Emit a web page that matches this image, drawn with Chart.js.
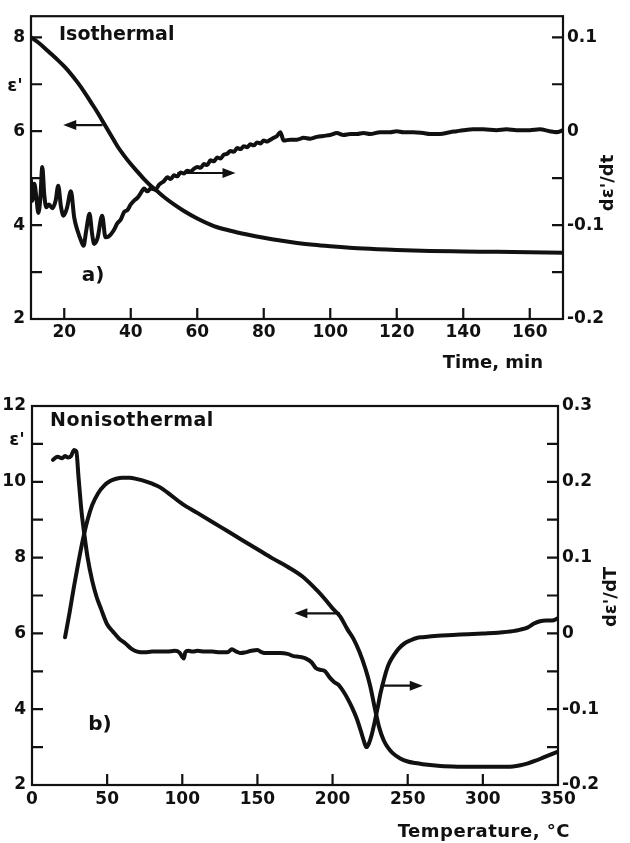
<!DOCTYPE html>
<html><head><meta charset="utf-8">
<script src="https://cdn.jsdelivr.net/npm/chart.js@4.4.0/dist/chart.umd.min.js"></script>
<style>
html,body{margin:0;padding:0;background:#fff;width:630px;height:843px;overflow:hidden}
canvas{position:absolute;left:0}
#c1{top:0}
#c2{top:385px}
</style></head><body>
<canvas id="c1" width="630" height="385"></canvas>
<canvas id="c2" width="630" height="458"></canvas>
<script>
// ---------- a) Isothermal ----------
const isoTime = [10, 12, 14, 16, 18, 20, 22, 24, 26, 28,
  30, 32, 34, 36, 38, 40, 42, 44, 46, 48,
  50, 53, 56, 60, 65, 70, 75, 80, 85, 90,
  95, 100, 110, 120, 130, 140, 150, 160, 170];
const isoEps = [8.00, 7.90, 7.78, 7.65, 7.52, 7.38, 7.22, 7.04, 6.84, 6.62,
  6.40, 6.16, 5.92, 5.68, 5.48, 5.30, 5.14, 4.98, 4.84, 4.72,
  4.60, 4.44, 4.30, 4.14, 3.98, 3.88, 3.80, 3.73, 3.67, 3.62,
  3.58, 3.55, 3.50, 3.47, 3.45, 3.44, 3.43, 3.42, 3.41];

const isoDerTime = [10, 10.4, 11, 11.6, 12.2, 12.8, 13.4, 14.0, 14.6, 15.4,
  16.4, 17.4, 18.2, 19.0, 19.8, 20.8, 22.0, 23.0, 24.0, 25.0,
  25.8, 26.6, 27.6, 28.4, 29.0, 30.0, 31.4, 32.4, 33.4, 34.8,
  36, 37, 38, 39, 40, 41, 42, 43, 44, 45,
  46, 47.5, 48.5, 50, 51, 52, 53, 54, 55, 56,
  57, 58, 59, 60, 61, 62, 63, 64, 65, 66,
  67, 68, 69, 70, 71, 72, 73, 74, 75, 76,
  77, 78, 79, 80, 81, 82, 83, 84, 85, 86,
  88, 90, 92, 94, 96, 98, 100, 102, 104, 106,
  108, 110, 112, 115, 118, 120, 122, 125, 128, 130,
  133, 136, 138, 140, 143, 146, 150, 153, 156, 160,
  163, 166, 168, 170];
const isoDer = [-0.052, -0.074, -0.056, -0.070, -0.087, -0.072, -0.038, -0.068, -0.081, -0.078,
  -0.082, -0.074, -0.058, -0.080, -0.090, -0.082, -0.064, -0.092, -0.106, -0.116,
  -0.122, -0.106, -0.088, -0.110, -0.120, -0.114, -0.090, -0.113, -0.112, -0.106,
  -0.098, -0.094, -0.086, -0.084, -0.078, -0.074, -0.071, -0.066, -0.061, -0.064,
  -0.061, -0.062, -0.057, -0.053, -0.049, -0.051, -0.047, -0.048, -0.044, -0.045,
  -0.042, -0.043, -0.040, -0.038, -0.039, -0.035, -0.036, -0.031, -0.032, -0.028,
  -0.029, -0.025, -0.024, -0.021, -0.022, -0.018, -0.019, -0.016, -0.017, -0.014,
  -0.015, -0.012, -0.013, -0.010, -0.011, -0.009, -0.007, -0.005, -0.001, -0.010,
  -0.009, -0.009, -0.007, -0.008, -0.006, -0.005, -0.004, -0.002, -0.004, -0.003,
  -0.003, -0.002, -0.003, -0.001, -0.001, 0.000, -0.001, -0.001, -0.002, -0.003,
  -0.003, -0.001, 0.000, 0.001, 0.002, 0.002, 0.001, 0.002, 0.001, 0.001,
  0.002, 0.000, -0.001, 0.001];

const isoXTicks = [20, 40, 60, 80, 100, 120, 140, 160];
const isoLeftTicks = [2, 3, 4, 5, 6, 7, 8];
const isoLeftLabels = ['2', '', '4', '', '6', '', '8'];
const isoRightTicks = [-0.2, -0.15, -0.1, -0.05, 0, 0.05, 0.1];
const isoRightLabels = ['-0.2', '', '-0.1', '', '0', '', '0.1'];

// ---------- b) Nonisothermal ----------
const nonTemp = [22, 25, 28, 31, 34, 37, 40, 44, 48, 52,
  56, 60, 65, 70, 75, 80, 85, 90, 100, 110,
  120, 130, 140, 150, 160, 170, 180, 190, 195, 200,
  205, 210, 214, 218, 222, 225, 228, 231, 234, 237,
  240, 245, 250, 255, 260, 270, 280, 290, 300, 310,
  320, 325, 330, 335, 340, 345, 350];
const nonEps = [5.90, 6.55, 7.25, 7.90, 8.50, 9.00, 9.38, 9.70, 9.90, 10.02,
  10.08, 10.11, 10.11, 10.07, 10.02, 9.95, 9.86, 9.72, 9.42, 9.18,
  8.94, 8.70, 8.46, 8.22, 7.98, 7.76, 7.50, 7.12, 6.90, 6.66,
  6.45, 6.10, 5.85, 5.50, 5.05, 4.62, 4.05, 3.52, 3.18, 2.98,
  2.84, 2.70, 2.62, 2.58, 2.55, 2.51, 2.49, 2.48, 2.48, 2.48,
  2.49, 2.52, 2.57, 2.64, 2.72, 2.80, 2.88];

const nonDerTemp = [14, 17, 20, 22, 24, 26, 28, 29.5, 31, 33,
  35, 37, 40, 43, 46, 50, 54, 58, 62, 66,
  70, 75, 80, 85, 90, 95, 98, 100, 101, 102,
  104, 107, 110, 115, 120, 125, 130, 133, 136, 139,
  142, 146, 150, 153, 156, 160, 165, 170, 174, 178,
  182, 186, 189, 192, 195, 198, 201, 204, 207, 210,
  213, 216, 219, 221, 222.5, 224, 226, 228, 230, 232,
  234, 236, 238, 241, 244, 248, 252, 256, 260, 270,
  280, 290, 300, 310, 320, 325, 330, 334, 338, 342,
  346, 350];
const nonDer = [0.229, 0.233, 0.231, 0.234, 0.232, 0.234, 0.242, 0.240, 0.205, 0.160,
  0.128, 0.100, 0.070, 0.048, 0.032, 0.012, 0.002, -0.007, -0.013, -0.020,
  -0.024, -0.025, -0.024, -0.024, -0.024, -0.023, -0.025, -0.031, -0.033, -0.025,
  -0.023, -0.024, -0.023, -0.024, -0.024, -0.025, -0.025, -0.021, -0.024, -0.026,
  -0.025, -0.023, -0.022, -0.025, -0.026, -0.026, -0.026, -0.027, -0.030, -0.031,
  -0.033, -0.038, -0.046, -0.048, -0.050, -0.058, -0.064, -0.068, -0.076, -0.086,
  -0.098, -0.112, -0.130, -0.143, -0.150, -0.146, -0.134, -0.117, -0.098, -0.078,
  -0.062, -0.048, -0.038, -0.028, -0.020, -0.013, -0.009, -0.006, -0.005, -0.003,
  -0.002, -0.001, 0.000, 0.001, 0.003, 0.005, 0.008, 0.013, 0.016, 0.017,
  0.017, 0.020];

const nonXTicks = [0, 50, 100, 150, 200, 250, 300, 350];
const nonLeftTicks = [2, 3, 4, 5, 6, 7, 8, 9, 10, 11, 12];
const nonLeftLabels = ['2', '', '4', '', '6', '', '8', '', '10', '', '12'];
const nonRightTicks = [-0.2, -0.15, -0.1, -0.05, 0, 0.05, 0.1, 0.15, 0.2, 0.25, 0.3];
const nonRightLabels = ['-0.2', '', '-0.1', '', '0', '', '0.1', '', '0.2', '', '0.3'];

// ---------- drawing ----------
const FONT = 'DejaVu Sans';
const INK = '#111';
Chart.defaults.font.family = FONT;
Chart.defaults.color = INK;
const TICKFONT = { size: 17, weight: 'bold' };

const zip = (xs, ys) => xs.map((x, i) => ({ x, y: ys[i] }));
const setTicks = vals => s => { s.ticks = vals.map(v => ({ value: v })); };

const decor = {
  id: 'decor',
  afterDraw(chart, args, o) {
    const ctx = chart.ctx, a = chart.chartArea;
    const xs = chart.scales.x, yl = chart.scales.y, yr = chart.scales.y1;
    ctx.save();
    ctx.strokeStyle = INK; ctx.fillStyle = INK; ctx.lineWidth = 2.2;
    ctx.strokeRect(a.left, a.top, a.right - a.left, a.bottom - a.top);
    const L = o.tickLen;
    ctx.beginPath();
    xs.ticks.forEach(t => { const p = xs.getPixelForValue(t.value);
      if (p > a.left + 2 && p < a.right - 2) { ctx.moveTo(p, a.bottom); ctx.lineTo(p, a.bottom - L); } });
    yl.ticks.forEach(t => { const p = yl.getPixelForValue(t.value);
      if (p > a.top + 2 && p < a.bottom - 2) { ctx.moveTo(a.left, p); ctx.lineTo(a.left + L, p); } });
    yr.ticks.forEach(t => { const p = yr.getPixelForValue(t.value);
      if (p > a.top + 2 && p < a.bottom - 2) { ctx.moveTo(a.right, p); ctx.lineTo(a.right - L, p); } });
    ctx.stroke();
    // arrows (positions in data units of x and left y)
    o.arrows.forEach(ar => {
      const x1 = xs.getPixelForValue(ar.from), x2 = xs.getPixelForValue(ar.to);
      const y = yl.getPixelForValue(ar.level);
      const dir = Math.sign(x2 - x1);
      ctx.beginPath(); ctx.moveTo(x1, y); ctx.lineTo(x2 - dir * 8, y); ctx.stroke();
      ctx.beginPath(); ctx.moveTo(x2, y); ctx.lineTo(x2 - dir * 13, y - 5); ctx.lineTo(x2 - dir * 13, y + 5);
      ctx.closePath(); ctx.fill();
    });
    // texts
    o.texts.forEach(t => {
      ctx.save();
      ctx.font = 'bold ' + (t.size || 19) + 'px "' + FONT + '"';
      if ('letterSpacing' in ctx) ctx.letterSpacing = (t.ls || 0) + 'px';
      ctx.textAlign = t.align || 'left';
      ctx.textBaseline = 'middle';
      ctx.translate(t.x, t.y);
      if (t.rot) ctx.rotate(t.rot);
      ctx.fillText(t.text, 0, 0);
      ctx.restore();
    });
    ctx.restore();
  }
};

function lineDs(data, axis, bw) {
  return { data, yAxisID: axis, showLine: true, borderColor: INK, backgroundColor: INK,
    borderWidth: bw, pointRadius: 0, cubicInterpolationMode: 'monotone', fill: false,
    borderJoinStyle: 'round', borderCapStyle: 'round' };
}

function makeChart(id, cfg) {
  return new Chart(document.getElementById(id), {
    type: 'scatter',
    data: { datasets: [
      lineDs(zip(cfg.epsX, cfg.epsY), 'y', 4),
      lineDs(zip(cfg.derX, cfg.derY), 'y1', 4)
    ] },
    options: {
      responsive: false, animation: false, devicePixelRatio: 1,
      layout: { padding: { top: cfg.padTop, left: 0, right: 0, bottom: 0 } },
      plugins: { legend: { display: false }, tooltip: { enabled: false }, decor: cfg.decor },
      scales: {
        x: { type: 'linear', min: cfg.xMin, max: cfg.xMax, afterBuildTicks: setTicks(cfg.xTicks),
          afterFit: s => { s.height = cfg.xH; },
          grid: { display: false, drawTicks: false }, border: { display: false },
          ticks: { autoSkip: false, maxRotation: 0, padding: cfg.xPad, font: TICKFONT, color: INK,
            callback: v => String(v) } },
        y: { position: 'left', min: cfg.lMin, max: cfg.lMax, afterBuildTicks: setTicks(cfg.lTicks),
          afterFit: s => { s.width = cfg.lW; },
          grid: { display: false, drawTicks: false }, border: { display: false },
          ticks: { autoSkip: false, padding: 6, font: TICKFONT, color: INK,
            callback: (v, i) => cfg.lLabels[i] } },
        y1: { position: 'right', min: cfg.rMin, max: cfg.rMax, afterBuildTicks: setTicks(cfg.rTicks),
          afterFit: s => { s.width = cfg.rW; },
          grid: { display: false, drawTicks: false }, border: { display: false },
          ticks: { autoSkip: false, padding: 4, font: TICKFONT, color: INK,
            callback: (v, i) => cfg.rLabels[i] } }
      }
    },
    plugins: [decor]
  });
}

makeChart('c1', {
  epsX: isoTime, epsY: isoEps, derX: isoDerTime, derY: isoDer,
  xMin: 10, xMax: 170, xTicks: isoXTicks, xH: 66, xPad: 3,
  lMin: 2, lMax: 8.45, lTicks: isoLeftTicks, lLabels: isoLeftLabels, lW: 31,
  rMin: -0.2, rMax: 0.1225, rTicks: isoRightTicks, rLabels: isoRightLabels, rW: 67,
  padTop: 16,
  decor: {
    tickLen: 11,
    arrows: [ { from: 31.5, to: 19.7, level: 6.13 }, { from: 54, to: 71.5, level: 5.11 } ],
    texts: [
      { text: 'Isothermal', x: 59, y: 35 },
      { text: 'a)', x: 93, y: 276, align: 'center', size: 20 },
      { text: "ε'", x: 15, y: 86, align: 'center', size: 18 },
      { text: "dε'/dt", x: 608, y: 183, align: 'center', rot: -Math.PI / 2, size: 18 },
      { text: 'Time, min', x: 543, y: 363, align: 'right', size: 18 }
    ]
  }
});

makeChart('c2', {
  epsX: nonTemp, epsY: nonEps, derX: nonDerTemp, derY: nonDer,
  xMin: 0, xMax: 350, xTicks: nonXTicks, xH: 58, xPad: 4,
  lMin: 2, lMax: 12, lTicks: nonLeftTicks, lLabels: nonLeftLabels, lW: 32,
  rMin: -0.2, rMax: 0.3, rTicks: nonRightTicks, rLabels: nonRightLabels, rW: 72,
  padTop: 21,
  decor: {
    tickLen: 11,
    arrows: [ { from: 205, to: 174.6, level: 6.53 }, { from: 232, to: 260, level: 4.62 } ],
    texts: [
      { text: 'Nonisothermal', x: 50, y: 36, ls: 0.5 },
      { text: 'b)', x: 100, y: 340, align: 'center', size: 20 },
      { text: "ε'", x: 17, y: 55, align: 'center', size: 18 },
      { text: "dε'/dT", x: 611, y: 212, align: 'center', rot: -Math.PI / 2, size: 18 },
      { text: 'Temperature, °C', x: 570, y: 447, align: 'right', size: 18, ls: 0.5 }
    ]
  }
});
</script>
</body></html>
